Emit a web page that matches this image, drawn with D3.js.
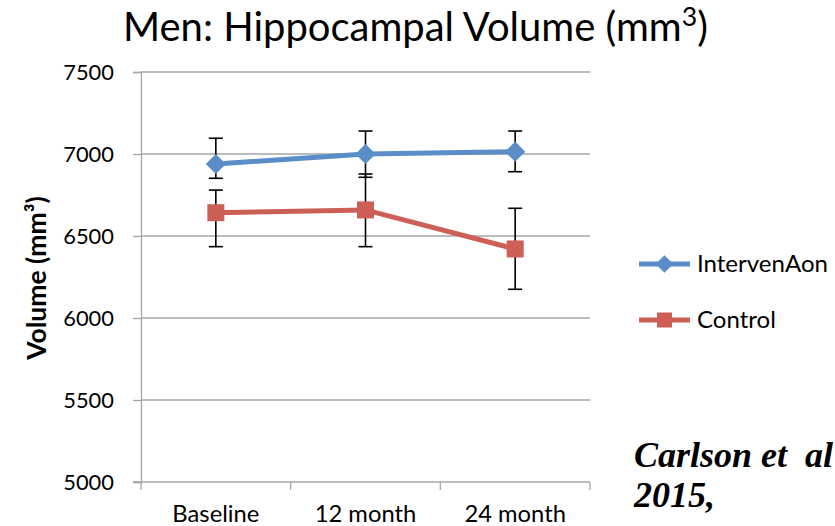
<!DOCTYPE html>
<html><head><meta charset="utf-8">
<script src="https://cdn.jsdelivr.net/npm/d3@7"></script>
<style>body{margin:0;background:#fff}</style>
</head><body>
<svg id="c" width="835" height="526"></svg>
<script>
const categories = ["Baseline", "12 month", "24 month"];
const intervention = [6939, 7000, 7014];
const interventionHi = [7096, 7140, 7140];
const interventionLo = [6852, 6858, 6892];
const control = [6642, 6659, 6421];
const controlHi = [6780, 6878, 6669];
const controlLo = [6435, 6435, 6175];
const yTicks = [5000, 5500, 6000, 6500, 7000, 7500];
const seriesNames = ["IntervenAon", "Control"];

const svg = d3.select("#c");
const font = "Lato, 'Open Sans', sans-serif";
const L = 141, R = 590, T = 72, B = 482;
const x = d3.scaleBand().domain(categories).range([L, R]);
const y = d3.scaleLinear().domain([5000, 7500]).range([B, T]);
const grid = "#a6a6a6";

function fit(sel, refNode, target) {
  const fs = parseFloat(d3.select(refNode).attr("font-size"));
  const w = refNode.getBBox().width;
  const nfs = fs * target / w;
  sel.attr("font-size", nfs);
  return nfs;
}

svg.append("g").selectAll("line").data(yTicks.slice(1)).join("line")
  .attr("x1", L).attr("x2", R).attr("y1", d => y(d)).attr("y2", d => y(d))
  .attr("stroke", grid).attr("stroke-width", 1.3);

const ya = svg.append("g").attr("transform", `translate(${L},0)`)
  .call(d3.axisLeft(y).tickValues(yTicks).tickFormat(d3.format("d")).tickSize(8).tickPadding(19));
ya.select(".domain").attr("stroke", grid).attr("stroke-width", 1.3);
ya.selectAll(".tick line").attr("stroke", grid).attr("stroke-width", 1.3);
ya.selectAll("text").attr("font-family", font).attr("font-size", 22).attr("fill", "#000");
fit(ya.selectAll("text"), ya.select("text").node(), 51);

const xa = svg.append("g").attr("transform", `translate(0,${B})`)
  .call(d3.axisBottom(x).tickSize(0).tickPadding(0));
xa.select(".domain").attr("d", `M${L-8},0H${R}`).attr("stroke", grid).attr("stroke-width", 1.3);
xa.selectAll("text").attr("font-family", font).attr("font-size", 22).attr("fill", "#000")
  .attr("y", 40).attr("dy", null);
fit(xa.selectAll("text"), xa.select("text").node(), 87);
const edges = categories.map(c => x(c)).concat([x(categories[categories.length-1]) + x.bandwidth()]);
xa.selectAll(".edge").data(edges).join("line").attr("class", "edge")
  .attr("x1", d => d).attr("x2", d => d).attr("y1", 0).attr("y2", 8)
  .attr("stroke", grid).attr("stroke-width", 1.3);

const cx = c => x(c) + x.bandwidth() / 2;

function errorBars(hi, lo) {
  const g = svg.append("g").attr("stroke", "#000").attr("stroke-width", 1.6);
  categories.forEach((c, i) => {
    g.append("line").attr("x1", cx(c)).attr("x2", cx(c)).attr("y1", y(hi[i])).attr("y2", y(lo[i]));
    [hi[i], lo[i]].forEach(v => g.append("line").attr("x1", cx(c) - 7).attr("x2", cx(c) + 7)
      .attr("y1", y(v)).attr("y2", y(v)));
  });
}
errorBars(interventionHi, interventionLo);
errorBars(controlHi, controlLo);

const blue = "#5b8ec8", red = "#cd5f57";
const line = d3.line().x((d, i) => cx(categories[i])).y(d => y(d));
svg.append("path").datum(intervention).attr("d", line).attr("fill", "none")
  .attr("stroke", blue).attr("stroke-width", 5);
svg.append("path").datum(control).attr("d", line).attr("fill", "none")
  .attr("stroke", red).attr("stroke-width", 5);

const diamond = d3.symbol().type(d3.symbolDiamond2).size(260);
svg.append("g").selectAll("path").data(intervention).join("path")
  .attr("d", diamond).attr("transform", (d, i) => `translate(${cx(categories[i])},${y(d)})`)
  .attr("fill", blue);
svg.append("g").selectAll("rect").data(control).join("rect")
  .attr("x", (d, i) => cx(categories[i]) - 8.5).attr("y", d => y(d) - 8.5)
  .attr("width", 17).attr("height", 17).attr("fill", red);

const lg = svg.append("g");
const legTexts = [];
[[264, blue, "d"], [320, red, "s"]].forEach(([ly, col, m], i) => {
  lg.append("line").attr("x1", 639).attr("x2", 690).attr("y1", ly).attr("y2", ly)
    .attr("stroke", col).attr("stroke-width", 5);
  if (m === "d") lg.append("path").attr("d", d3.symbol().type(d3.symbolDiamond2).size(200)())
    .attr("transform", `translate(664.5,${ly})`).attr("fill", col);
  else lg.append("rect").attr("x", 657).attr("y", ly - 7.5).attr("width", 15).attr("height", 15).attr("fill", col);
  legTexts.push(lg.append("text").attr("class", "lt").attr("x", 697).attr("y", ly).attr("dy", "0.35em")
    .attr("font-family", font).attr("font-size", 22).attr("fill", "#000").text(seriesNames[i]).node());
});
fit(lg.selectAll(".lt"), legTexts[0], 131);

const t = svg.append("text").attr("x", 123).attr("y", 41)
  .attr("font-family", font).attr("font-size", 30).attr("fill", "#000");
t.append("tspan").text("Men: Hippocampal Volume (mm");
const sup = t.append("tspan").attr("dy", -11).attr("font-size", 20).text("3");
t.append("tspan").attr("dy", 11).text(")");
{
  const w = t.node().getBBox().width;
  const k = 585 / w;
  t.attr("font-size", 30 * k);
  sup.attr("font-size", 20 * k).attr("dy", -11 * k);
  t.select("tspan:last-child").attr("dy", 11 * k);
}

const yt = svg.append("text").attr("transform", "translate(46,278) rotate(-90)").attr("text-anchor", "middle")
  .attr("font-family", font).attr("font-size", 22).attr("font-weight", "bold").attr("fill", "#000")
  .text("Volume (mm³)");
fit(yt, yt.node(), 165);

const ci = svg.append("text").attr("font-family", "'Liberation Serif', 'Times New Roman', serif")
  .attr("font-size", 36).attr("font-weight", "bold").attr("font-style", "italic").attr("fill", "#000");
ci.append("tspan").attr("x", 634).attr("y", 467).attr("xml:space", "preserve").text("Carlson et  al");
ci.append("tspan").attr("x", 634).attr("y", 507).text("2015,");
</script>
</body></html>
